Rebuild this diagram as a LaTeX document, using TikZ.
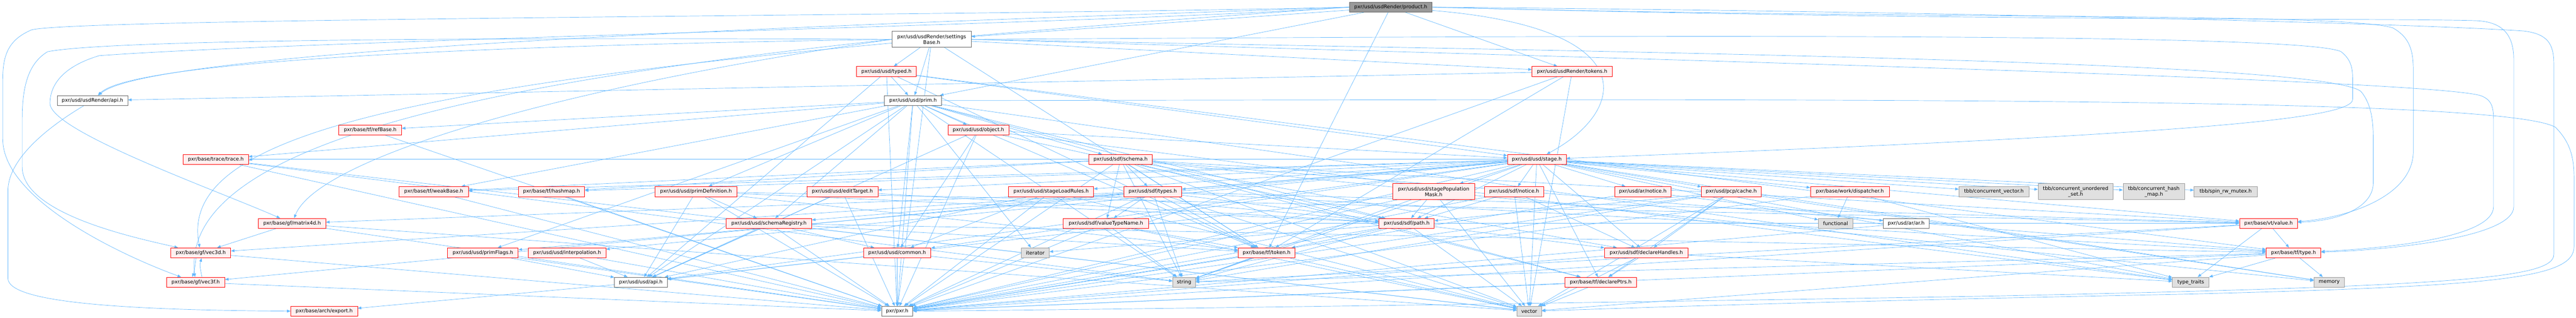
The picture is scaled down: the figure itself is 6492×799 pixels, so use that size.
\documentclass[tikz,border=0pt]{standalone}
\usepackage{fontspec}
\setmainfont{DejaVu Sans}
\usetikzlibrary{arrows.meta}
\definecolor{cEdge}{HTML}{63B8FF}
\definecolor{cRed}{HTML}{FF0000}
\definecolor{cPink}{HTML}{FFF0F0}
\definecolor{cGrayB}{HTML}{999999}
\definecolor{cGrayF}{HTML}{E0E0E0}
\definecolor{cWB}{HTML}{666666}
\definecolor{cRoot}{HTML}{999999}
\pgfdeclarelayer{background}
\pgfsetlayers{background,main}
\tikzset{
  nd/.style={draw, rectangle, inner xsep=1pt, inner ysep=0pt, minimum height=25.5pt,
    font=\fontsize{12.6}{14.5}\selectfont, align=center, line width=1pt},
  rn/.style={nd, draw=cRed, fill=cPink},
  gn/.style={nd, draw=cGrayB, fill=cGrayF},
  wn/.style={nd, draw=cWB, fill=white},
  rootn/.style={nd, draw=cWB, fill=cRoot},
  two/.style={minimum height=40pt},
  edge/.style={draw=cEdge, line width=0.9pt, -{Triangle[length=9pt,width=7pt]}}
}
\begin{document}
\begin{tikzpicture}[x=1pt,y=-1pt]
\useasboundingbox (0,0) rectangle (6492,799);
% row 18
\node[rootn, minimum width=208pt] (prod) at (3505,18) {pxr/usd/usdRender/product.h};
% row 99
\node[wn, two, minimum width=199pt] (setb) at (2348,99) {pxr/usd/usdRender/settings\\Base.h};
% row 180
\node[rn, minimum width=150pt] (typed) at (2234,180) {pxr/usd/usd/typed.h};
\node[rn, minimum width=202pt] (tokens) at (3962,180) {pxr/usd/usdRender/tokens.h};
% row 253
\node[wn, minimum width=178pt] (rapi) at (233,253) {pxr/usd/usdRender/api.h};
\node[wn, minimum width=144pt] (prim) at (2301,253) {pxr/usd/usd/prim.h};
% row 327
\node[rn, minimum width=158pt] (refb) at (933,327) {pxr/base/tf/refBase.h};
\node[rn, minimum width=154pt] (obj) at (2466,327) {pxr/usd/usd/object.h};
% row 401
\node[rn, minimum width=164pt] (trace) at (544,401) {pxr/base/trace/trace.h};
\node[rn, minimum width=160pt] (schema) at (2824,401) {pxr/usd/sdf/schema.h};
\node[rn, minimum width=148pt] (stage) at (3873,401) {pxr/usd/usd/stage.h};
% row 482
\node[rn, minimum width=175pt] (weakb) at (1093,482) {pxr/base/tf/weakBase.h};
\node[rn, minimum width=167pt] (hashmap) at (1390,482) {pxr/base/tf/hashmap.h};
\node[rn, minimum width=207pt] (primdef) at (1754,482) {pxr/usd/usd/primDefinition.h};
\node[rn, minimum width=179pt] (edit) at (2123,482) {pxr/usd/usd/editTarget.h};
\node[rn, minimum width=214pt] (slr) at (2649,482) {pxr/usd/usd/stageLoadRules.h};
\node[rn, minimum width=146pt] (types) at (2905,482) {pxr/usd/sdf/types.h};
\node[rn, two, minimum width=206pt] (spm) at (3613,482) {pxr/usd/usd/stagePopulation\\Mask.h};
\node[rn, minimum width=150pt] (snotice) at (3816,482) {pxr/usd/sdf/notice.h};
\node[rn, minimum width=142pt] (anotice) at (4140,482) {pxr/usd/ar/notice.h};
\node[rn, minimum width=150pt] (pcp) at (4363,482) {pxr/usd/pcp/cache.h};
\node[rn, minimum width=199pt] (disp) at (4662,482) {pxr/base/work/dispatcher.h};
\node[gn, minimum width=176pt] (tcv) at (5025,482) {tbb/concurrent\_vector.h};
\node[gn, two, minimum width=189pt] (tcus) at (5231,482) {tbb/concurrent\_unordered\\\_set.h};
\node[gn, two, minimum width=155pt] (tchm) at (5428,482) {tbb/concurrent\_hash\\\_map.h};
\node[gn, minimum width=159pt] (tspin) at (5609,482) {tbb/spin\_rw\_mutex.h};
% row 562
\node[rn, minimum width=170pt] (matrix) at (736,562) {pxr/base/gf/matrix4d.h};
\node[rn, minimum width=215pt] (schreg) at (1938,562) {pxr/usd/usd/schemaRegistry.h};
\node[rn, minimum width=215pt] (vtn) at (2787,562) {pxr/usd/sdf/valueTypeName.h};
\node[rn, minimum width=139pt] (path) at (3545,562) {pxr/usd/sdf/path.h};
\node[gn, minimum width=87pt] (functional) at (4626,562) {functional};
\node[wn, minimum width=116pt] (ar) at (4804,562) {pxr/usd/ar/ar.h};
\node[rn, minimum width=146pt] (value) at (5717,562) {pxr/base/vt/value.h};
% row 636
\node[rn, minimum width=151pt] (vec3d) at (506,636) {pxr/base/gf/vec3d.h};
\node[rn, minimum width=178pt] (primflags) at (1217,636) {pxr/usd/usd/primFlags.h};
\node[rn, minimum width=196pt] (interp) at (1429,636) {pxr/usd/usd/interpolation.h};
\node[rn, minimum width=170pt] (common) at (2261,636) {pxr/usd/usd/common.h};
\node[gn, minimum width=71pt] (iterator) at (2609,636) {iterator};
\node[rn, minimum width=143pt] (token) at (3192,636) {pxr/base/tf/token.h};
\node[rn, minimum width=210pt] (declh) at (4149,636) {pxr/usd/sdf/declareHandles.h};
\node[rn, minimum width=138pt] (type) at (5780,636) {pxr/base/tf/type.h};
% row 710
\node[rn, minimum width=147pt] (vec3f) at (493,710) {pxr/base/gf/vec3f.h};
\node[wn, minimum width=133pt] (uapi) at (1615,710) {pxr/usd/usd/api.h};
\node[gn, minimum width=57pt] (string) at (2984,710) {string};
\node[rn, minimum width=181pt] (declp) at (4034,710) {pxr/base/tf/declarePtrs.h};
\node[gn, minimum width=92pt] (typetraits) at (5521,710) {type\_traits};
\node[gn, minimum width=77pt] (memory) at (5870,710) {memory};
% row 783
\node[rn, minimum width=168pt] (export) at (817,783) {pxr/base/arch/export.h};
\node[wn, minimum width=79pt] (pxr) at (2261,783) {pxr/pxr.h};
\node[gn, minimum width=62pt] (vector) at (3854,783) {vector};

\begin{pgfonlayer}{background}
% product.h
\foreach \t in {setb,prim,tokens,token} \draw[edge] (prod) -- (\t);
\draw[edge] (prod) .. controls (4150,70) and (4100,280) .. (stage);
\draw[edge] (prod.west) .. controls (2500,50) and (400,110) .. (rapi);
\draw[edge] (prod.west) .. controls (2500,40) and (200,45) .. (80,75) .. controls (20,100) and (7,140) .. (7,200) -- (7,350) .. controls (7,500) and (300,640) .. (vec3f);
\draw[edge] (prod.west) .. controls (2800,60) and (800,100) .. (250,140) .. controls (150,170) and (126,220) .. (126,260) .. controls (126,330) and (550,480) .. (matrix);
\draw[edge] (prod.west) .. controls (1200,170) and (440,300) .. (vec3d);
\draw[edge] (prod.east) .. controls (4800,50) and (5900,30) .. (6030,70) .. controls (6075,95) and (6082,130) .. (6082,180) -- (6082,380) .. controls (6082,500) and (5900,550) .. (value);
\draw[edge] (prod.east) .. controls (5000,55) and (6000,45) .. (6240,52) .. controls (6310,55) and (6335,90) .. (6335,150) -- (6335,520) .. controls (6335,600) and (6000,630) .. (type);
\draw[edge] (prod.east) .. controls (5000,30) and (6100,60) .. (6360,78) .. controls (6420,85) and (6436,110) .. (6436,160) -- (6436,640) .. controls (6436,700) and (6200,720) .. (5000,745) .. controls (3500,770) and (2600,780) .. (pxr);
% settingsBase.h
\foreach \t in {typed,prim,tokens,pxr,token} \draw[edge] (setb) -- (\t);
\draw[edge] (setb.west) .. controls (1500,110) and (350,140) .. (rapi);
\draw[edge] (setb.west) .. controls (1500,95) and (300,95) .. (120,130) .. controls (70,160) and (56,220) .. (56,300) -- (56,420) .. controls (56,540) and (350,600) .. (vec3d);
\draw[edge] (setb.west) .. controls (1300,200) and (450,350) .. (vec3f);
\draw[edge] (setb.west) .. controls (1400,220) and (800,400) .. (matrix);
\draw[edge] (setb.east) .. controls (4000,90) and (5800,80) .. (5900,130) .. controls (5925,150) and (5929,170) .. (5929,200) -- (5929,250) .. controls (5929,300) and (5500,340) .. (stage);
\draw[edge] (setb.east) .. controls (4000,130) and (5850,150) .. (5950,230) .. controls (5975,260) and (5981,300) .. (5981,350) -- (5981,460) .. controls (5981,520) and (5900,555) .. (value);
\draw[edge] (setb.east) .. controls (4200,150) and (6100,200) .. (6250,240) .. controls (6280,250) and (6284,270) .. (6284,300) -- (6284,520) .. controls (6284,600) and (6000,625) .. (type);
% typed.h
\foreach \t in {prim,pxr,uapi,stage,token,type} \draw[edge] (typed) -- (\t);
% tokens.h
\foreach \t in {pxr,rapi,token,vector} \draw[edge] (tokens) -- (\t);
% usdRender/api.h
\draw[edge] (rapi) .. controls (120,320) and (20,400) .. (20,480) -- (20,700) .. controls (20,760) and (300,780) .. (export);
% prim.h
\foreach \t in {pxr,uapi,common,obj,primflags,schreg,primdef,schema,trace,declp,refb,token,weakb,path,iterator,string,typetraits} \draw[edge] (prim) -- (\t);
\draw[edge] (prim.east) .. controls (4500,250) and (6300,240) .. (6440,320) .. controls (6480,360) and (6487,400) .. (6487,450) -- (6487,620) .. controls (6487,700) and (6300,720) .. (5500,740) .. controls (4500,760) and (4100,775) .. (vector);
% object.h
\foreach \t in {pxr,uapi,common,stage,path,typetraits} \draw[edge] (obj) -- (\t);
% others
\draw[edge] (refb) -- (pxr);
\foreach \t in {pxr,string,vector} \draw[edge] (trace) -- (\t);
\foreach \t in {pxr,declh,types,vtn,declp,hashmap,token,type,weakb,value,memory,string,vector} \draw[edge] (schema) -- (\t);
\foreach \t in {pxr,uapi,common,edit,interp,schreg,primflags,slr,spm,anotice,declh,snotice,path,types,pcp,declp,hashmap,weakb,trace,value,disp,tcv,tcus,tchm,tspin,functional,string,typetraits,vector,memory} \draw[edge] (stage) -- (\t);
\draw[edge] (weakb) -- (pxr);
\draw[edge] (hashmap) -- (pxr);
\foreach \t in {pxr,uapi,schreg,path,token,value} \draw[edge] (primdef) -- (\t);
\foreach \t in {pxr,uapi,path} \draw[edge] (edit) -- (\t);
\foreach \t in {pxr,uapi,common,path,vector} \draw[edge] (slr) -- (\t);
\foreach \t in {pxr,declh,vtn,matrix,vec3d,vec3f,token,value,type,string,vector} \draw[edge] (types) -- (\t);
\foreach \t in {pxr,uapi,path,vector,string} \draw[edge] (spm) -- (\t);
\foreach \t in {pxr,declh,path,vector} \draw[edge] (snotice) -- (\t);
\foreach \t in {pxr,ar} \draw[edge] (anotice) -- (\t);
\foreach \t in {pxr,declh,path,declp,vector,string,memory} \draw[edge] (pcp) -- (\t);
\foreach \t in {functional,pxr,typetraits} \draw[edge] (disp) -- (\t);
\foreach \t in {pxr,vec3d,vector} \draw[edge] (matrix) -- (\t);
\foreach \t in {pxr,uapi,common,token,type,vector} \draw[edge] (schreg) -- (\t);
\foreach \t in {pxr,token,value,string,vector} \draw[edge] (vtn) -- (\t);
\foreach \t in {pxr,token,string,vector,iterator} \draw[edge] (path) -- (\t);
\draw[edge] (ar) -- (pxr);
\foreach \t in {pxr,type,typetraits,string} \draw[edge] (value) -- (\t);
\draw[edge] (vec3d) -- (pxr);
\draw[edge] ([xshift=-12pt]vec3d.south) .. controls ([xshift=-16pt,yshift=-30pt]vec3d.south) .. ([xshift=-8pt]vec3f.north);
\draw[edge] (vec3f) -- (pxr);
\draw[edge] ([xshift=16pt]vec3f.north) .. controls ([xshift=10pt,yshift=30pt]vec3f.north) .. ([xshift=2pt]vec3d.south);
\foreach \t in {pxr,uapi} \draw[edge] (primflags) -- (\t);
\foreach \t in {pxr,uapi} \draw[edge] (interp) -- (\t);
\foreach \t in {pxr,uapi,string} \draw[edge] (common) -- (\t);
\foreach \t in {pxr,string,vector} \draw[edge] (token) -- (\t);
\foreach \t in {pxr,declp,vector,typetraits} \draw[edge] (declh) -- (\t);
\foreach \t in {pxr,memory,typetraits,string,vector} \draw[edge] (type) -- (\t);
\foreach \t in {pxr,vector} \draw[edge] (declp) -- (\t);
\draw[edge] (uapi) -- (export);
\end{pgfonlayer}
\end{tikzpicture}
\end{document}
